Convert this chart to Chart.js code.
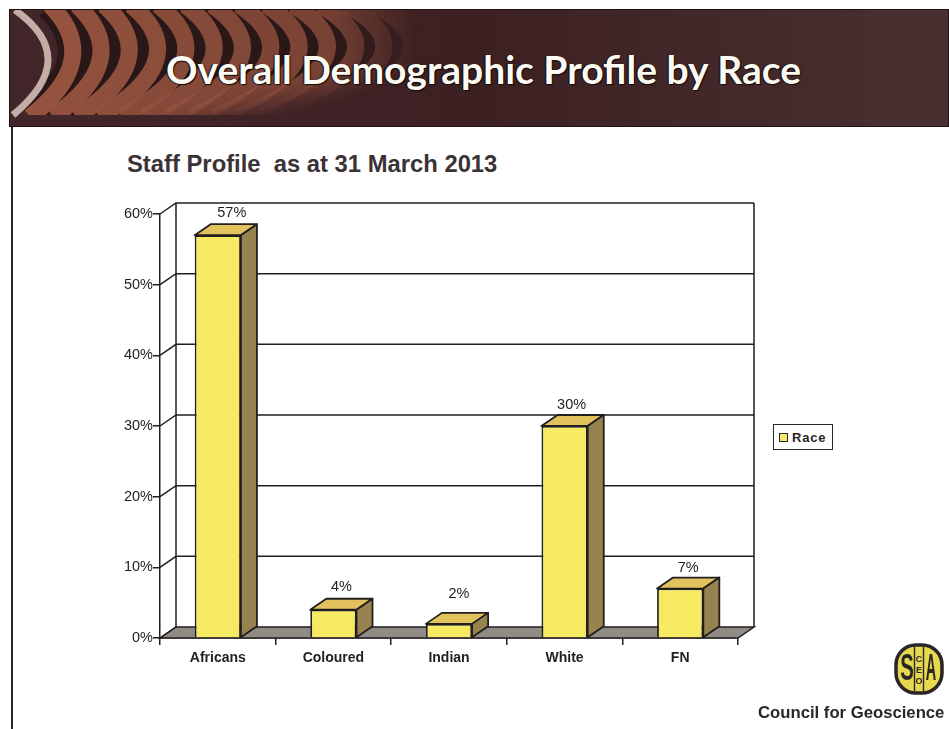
<!DOCTYPE html>
<html>
<head>
<meta charset="utf-8">
<title>Overall Demographic Profile by Race</title>
<script src="https://cdn.jsdelivr.net/npm/chart.js@4"></script>
<style>
  html, body { margin: 0; padding: 0; background: #fff; }
  body { position: relative; width: 949px; height: 729px; overflow: hidden; font-family: "Liberation Sans", sans-serif; }
  #banner { position: absolute; left: 9px; top: 9px; width: 940px; height: 118px; display: block; }
  #frame { position: absolute; left: 11px; top: 127px; width: 2px; height: 602px; background: #2a2526; }
  #headline { position: absolute; left: 166px; top: 46px; font: bold 39px Lato, sans-serif; color: #fbfbf4; white-space: nowrap; text-shadow: 1px 1px 1px #140808, -1px 0 1px #140808; }
  #subhead { position: absolute; left: 127px; top: 150px; font: bold 23.8px "Liberation Sans", sans-serif; color: #3b3236; white-space: pre; }
  #chart { position: absolute; left: 0; top: 0; }
  #legend { position: absolute; left: 773px; top: 424px; width: 58px; height: 24px; border: 1.5px solid #2a2526; background: #fff; font: bold 13px "Liberation Sans", sans-serif; letter-spacing: 0.8px; color: #2a2526; display: flex; align-items: center; }
  #legend i { display: block; width: 7px; height: 7px; margin: 0 4px 0 5px; background: #f6ea62; border: 1.5px solid #2a2526; }
  #logo { position: absolute; left: 893px; top: 643px; width: 52px; height: 52px; }
  #org { position: absolute; left: 758px; top: 703px; font: bold 16.7px "Liberation Sans", sans-serif; color: #2a2526; white-space: nowrap; }
</style>
</head>
<body>
<svg id="banner" viewBox="0 0 940 118">
  <defs>
    <linearGradient id="bg" x1="0" x2="1" y1="0" y2="0">
      <stop offset="0" stop-color="#42262a"/>
      <stop offset="0.5" stop-color="#3c2022"/>
      <stop offset="1" stop-color="#4b3032"/>
    </linearGradient>
    <linearGradient id="fadeRight" gradientUnits="userSpaceOnUse" x1="320" y1="0" x2="410" y2="0">
      <stop offset="0" stop-color="#fff"/>
      <stop offset="1" stop-color="#000"/>
    </linearGradient>
    <filter id="soft" x="-20%" y="-50%" width="140%" height="200%"><feGaussianBlur stdDeviation="9"/></filter>
    <mask id="maskRight"><rect width="940" height="118" fill="url(#fadeRight)"/></mask>
    <mask id="maskLow" maskUnits="userSpaceOnUse" x="0" y="0" width="940" height="118">
      <rect width="940" height="118" fill="#fff"/>
      <path d="M130 125 L450 48 L450 125 Z" fill="#000" filter="url(#soft)"/>
    </mask>
    <clipPath id="art"><rect width="940" height="106"/></clipPath>
  </defs>
  <rect width="940" height="118" fill="url(#bg)"/>
  <g clip-path="url(#art)">
    <g mask="url(#maskRight)">
      <g id="stripes" fill="none" mask="url(#maskLow)"></g>
    </g>
  </g>
  <path d="M6 1 Q73 49 4 106" fill="none" stroke="#c2aea6" stroke-width="7"/>
  <rect x="0.5" y="0.5" width="939" height="117" fill="none" stroke="#1e1214"/>
</svg>
<div id="frame"></div>
<div id="headline">Overall Demographic Profile by Race</div>
<div id="subhead">Staff Profile  as at 31 March 2013</div>
<canvas id="chart" width="949" height="729"></canvas>
<div id="legend"><i></i><span id="legend-label"></span></div>
<svg id="logo" viewBox="0 0 52 52">
  <rect x="3" y="2" width="46" height="48" rx="20" fill="#e6d94e" stroke="#2a2526" stroke-width="3.5"/>
  <g font-family="Liberation Sans" font-weight="bold" fill="#2a2526" text-anchor="middle">
    <text transform="translate(14 37) scale(0.85 1.55)" font-size="24">S</text>
    <text transform="translate(38 37) scale(0.6 1.55)" font-size="24">A</text>
    <text x="26" y="19" font-size="9">C</text>
    <text x="26" y="30" font-size="9">E</text>
    <text x="26" y="41" font-size="9">O</text>
  </g>
  <path d="M21.5 4V48M30.5 4V48" stroke="#2a2526" stroke-width="1.4"/>
</svg>
<div id="org">Council for Geoscience</div>

<script>
const categories = ['Africans', 'Coloured', 'Indian', 'White', 'FN'];
const raceShare = [57, 4, 2, 30, 7];
const seriesName = 'Race';
// value label placement, relative to the column's back top edge
const labelLift = [11, 12, 19, 10, 10];
const labelShift = [14, 8, 10, 7, 8];

// Depth of the box look, in pixels
const DEPTH_X = 16;
const DEPTH_Y = 11;
const INK = '#221e1f';

// banner stripes, curving out from the left edge
let darks = '', browns = '';
for (let i = 0; i < 14; i++) {
  const d = `M${41 + i * 27} -4 Q${95 + i * 31} 50 ${21 + i * 23} 108`;
  darks += `<path d="${d}" stroke="#2a1718" stroke-width="30"/>`;
  browns += `<path d="${d}" stroke="#95533f" stroke-width="17" opacity="${Math.max(0.6, 1 - i * 0.03)}"/>`;
}
document.getElementById('stripes').innerHTML = darks + browns;

document.getElementById('legend-label').textContent = seriesName;

function poly(ctx, pts, fill) {
  ctx.beginPath();
  pts.forEach((p, i) => (i ? ctx.lineTo(p[0], p[1]) : ctx.moveTo(p[0], p[1])));
  ctx.closePath();
  if (fill) { ctx.fillStyle = fill; ctx.fill(); }
  ctx.stroke();
}

// Back wall, floor and grid behind the columns
const wallsPlugin = {
  id: 'walls',
  beforeDatasetsDraw(chart) {
    const { ctx, chartArea: a, scales: { y } } = chart;
    const bx = a.left + DEPTH_X, rx = a.right + DEPTH_X;
    ctx.save();
    ctx.strokeStyle = INK;
    ctx.lineWidth = 1.5;
    poly(ctx, [[a.left, a.bottom], [bx, a.bottom - DEPTH_Y], [rx, a.bottom - DEPTH_Y], [a.right, a.bottom]], '#8e8c84');
    ctx.beginPath();
    y.ticks.forEach(t => {
      const py = y.getPixelForValue(t.value);
      ctx.moveTo(a.left, py);
      ctx.lineTo(bx, py - DEPTH_Y);
      if (t.value > 0) ctx.lineTo(rx, py - DEPTH_Y);
    });
    ctx.moveTo(bx, a.top - DEPTH_Y);
    ctx.lineTo(bx, a.bottom - DEPTH_Y);
    ctx.moveTo(rx, a.top - DEPTH_Y);
    ctx.lineTo(rx, a.bottom - DEPTH_Y);
    ctx.stroke();
    ctx.restore();
  },
  // Top and side faces plus the value above each column
  afterDatasetsDraw(chart) {
    const { ctx } = chart;
    const meta = chart.getDatasetMeta(0);
    ctx.save();
    ctx.strokeStyle = INK;
    ctx.lineWidth = 1.8;
    ctx.lineJoin = 'round';
    meta.data.forEach((bar, i) => {
      const { x, y, base, width } = bar.getProps(['x', 'y', 'base', 'width'], true);
      const l = x - width / 2, r = x + width / 2;
      poly(ctx, [[l, y], [l + DEPTH_X, y - DEPTH_Y], [r + DEPTH_X, y - DEPTH_Y], [r, y]], '#e2c25c');
      poly(ctx, [[r, y], [r + DEPTH_X, y - DEPTH_Y], [r + DEPTH_X, base - DEPTH_Y], [r, base]], '#97834f');
      ctx.fillStyle = INK;
      ctx.font = '14.5px "Liberation Sans"';
      ctx.textAlign = 'center';
      ctx.textBaseline = 'middle';
      ctx.fillText(raceShare[i] + '%', x + labelShift[i], y - DEPTH_Y - labelLift[i]);
    });
    ctx.restore();
  }
};

const ctx = document.getElementById('chart').getContext('2d');
// axis text in this chart runs a little wide
ctx.letterSpacing = '0.6px';

new Chart(ctx, {
  type: 'bar',
  data: {
    labels: categories,
    datasets: [{
      label: seriesName,
      data: raceShare,
      backgroundColor: '#f6ea62',
      borderColor: INK,
      borderWidth: 1.8,
      barPercentage: 0.4,
      categoryPercentage: 1,
    }]
  },
  plugins: [wallsPlugin],
  options: {
    responsive: false,
    animation: false,
    layout: { padding: { left: 0, top: 214, right: 211, bottom: 0 } },
    plugins: { legend: { display: false }, title: { display: false }, tooltip: { enabled: false } },
    scales: {
      x: {
        afterFit(s) { s.height = 91; },
        grid: { drawOnChartArea: false, tickLength: 7, color: INK, lineWidth: 1.5 },
        border: { color: INK, width: 1.5 },
        ticks: { color: INK, font: { family: 'Liberation Sans', size: 14, weight: 'bold' }, padding: 5, maxRotation: 0 }
      },
      y: {
        min: 0,
        max: 60,
        afterFit(s) { s.width = 160; },
        grid: { drawOnChartArea: false, tickLength: 7, color: INK, lineWidth: 1.5 },
        border: { color: INK, width: 1.5 },
        ticks: { stepSize: 10, color: INK, font: { family: 'Liberation Sans', size: 14.5 }, padding: 0, callback: v => v + '%' }
      }
    }
  }
});
</script>
</body>
</html>
